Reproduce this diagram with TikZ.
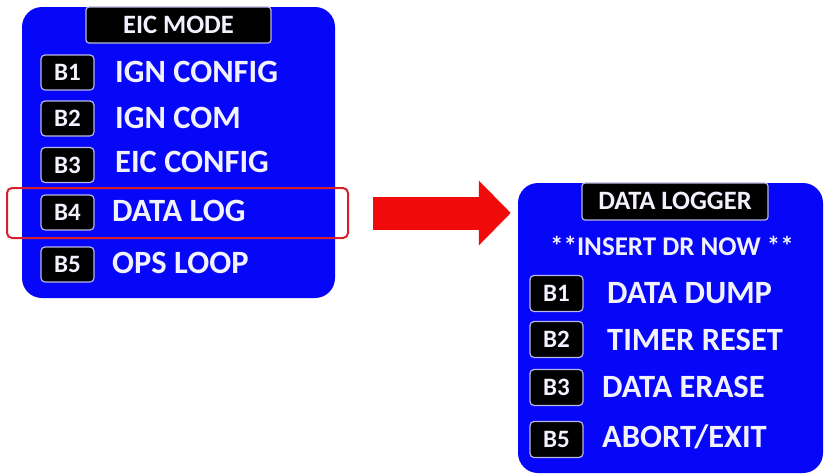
\documentclass[tikz,border=0pt]{standalone}
\usepackage{fontspec}
\setmainfont{Carlito}
\usetikzlibrary{arrows.meta}
\definecolor{panelblue}{HTML}{0606F8}
\definecolor{btnedge}{HTML}{B8B8E4}
\definecolor{hlred}{HTML}{D8202C}
\definecolor{arrowred}{HTML}{F00A0A}
\definecolor{txt}{HTML}{F2F2FF}
\tikzset{
  panel/.style={fill=panelblue, draw=none, rounded corners=20pt, inner sep=0pt},
  titlebox/.style={fill=black, draw=btnedge, line width=1.2pt, rounded corners=3pt,
    text=txt, font=\bfseries\fontsize{26.5}{26.5}\selectfont, inner sep=0pt,
    text height=16.5pt, text depth=0pt},
  btn/.style={fill=black, draw=btnedge, line width=1.2pt, rounded corners=4pt,
    minimum width=53pt, minimum height=35pt, inner sep=0pt,
    text=txt, font=\bfseries\fontsize{25}{25}\selectfont,
    text height=16pt, text depth=0pt},
  item/.style={anchor=west, inner sep=0pt, text=txt,
    font=\bfseries\fontsize{32.5}{32.5}\selectfont, text height=21pt, text depth=0pt},
  prompt/.style={inner sep=0pt, text=txt,
    font=\bfseries\fontsize{27}{27}\selectfont, text height=17pt, text depth=0pt},
  highlight/.style={draw=hlred, line width=2pt, rounded corners=5pt, inner sep=0pt},
  bigarrow/.style={draw=arrowred, line width=33pt,
    -{Triangle[length=32pt, width=63pt, fill=arrowred]}}
}
\begin{document}
\begin{tikzpicture}[x=1pt, y=-1pt]
\useasboundingbox (0,0) rectangle (825,475);

% EIC mode screen
\node[panel, minimum width=313pt, minimum height=291pt] (left) at (178.5,152.5) {};
\node[titlebox, minimum width=185pt, minimum height=36pt] (lt) at (178.5,25) {EIC MODE};
\node[btn] (lb1) at (67.5,72.5) {B1};
\node[btn] (lb2) at (67.5,118.5) {B2};
\node[btn] (lb3) at (67.5,165) {B3};
\node[btn] (lb4) at (67.5,212.5) {B4};
\node[btn] (lb5) at (67.5,264.5) {B5};
\node[item] (li1) at (115,72) {IGN CONFIG};
\node[item] (li2) at (115,118) {IGN COM};
\node[item] (li3) at (115,162) {EIC CONFIG};
\node[item] (li4) at (112,211) {DATA LOG};
\node[item] (li5) at (112,263) {OPS LOOP};

% selected entry
\node[highlight, minimum width=341pt, minimum height=50pt] (hl) at (177.5,213) {};

% data logger screen
\node[panel, minimum width=305pt, minimum height=290pt] (right) at (670.5,328) {};
\node[titlebox, minimum width=186pt, minimum height=37pt] (rt) at (675,201.5) {DATA LOGGER};
\node[prompt] (msg) at (672,247) {**INSERT DR NOW **};
\node[btn, minimum height=36pt] (rb1) at (556.5,293.5) {B1};
\node[btn, minimum height=36pt] (rb2) at (556.5,339.5) {B2};
\node[btn, minimum height=36pt] (rb3) at (556.5,387.5) {B3};
\node[btn, minimum height=36pt] (rb5) at (556.5,439.5) {B5};
\node[item] (ri1) at (607,293) {DATA DUMP};
\node[item] (ri2) at (607,340) {TIMER RESET};
\node[item] (ri3) at (602,387) {DATA ERASE};
\node[item] (ri5) at (602,437) {ABORT/EXIT};

% transition arrow
\draw[bigarrow, shorten <=24pt, shorten >=7pt] (hl.east) -- (hl.east -| right.west);
\end{tikzpicture}
\end{document}
